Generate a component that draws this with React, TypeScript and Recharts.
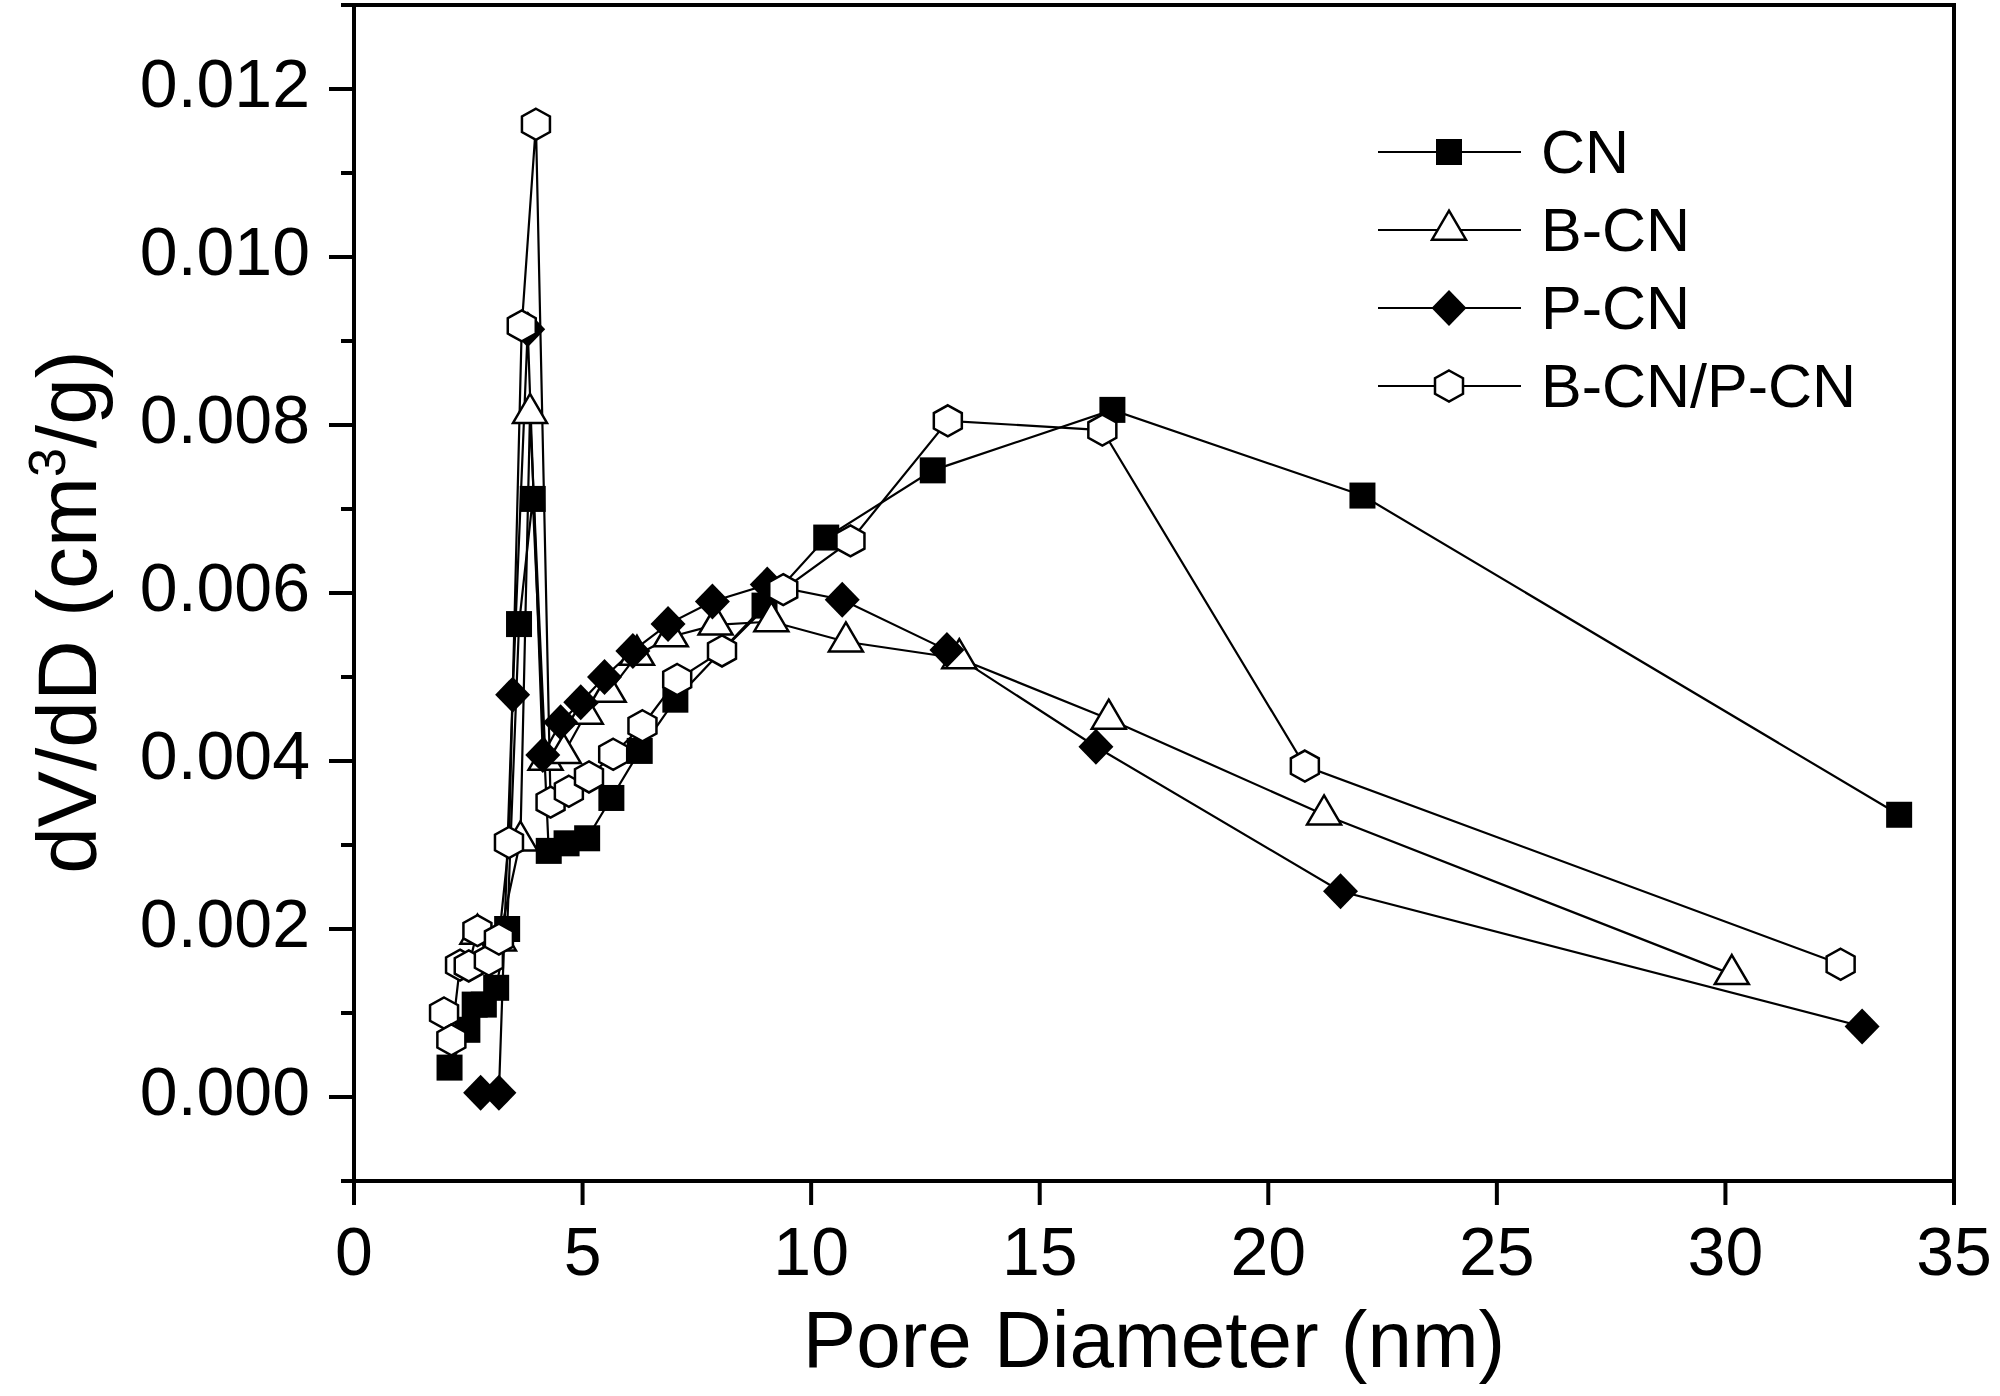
import React from 'react';
import { LineChart, Line, XAxis, YAxis, ReferenceLine, Legend } from 'recharts';

const FONT = '"Liberation Sans", Arial, Helvetica, sans-serif';

// [pore diameter (nm), dV/dD (cm3/g)]
const cnPoints: [number, number][] = [
  [2.09, 0.00035], [2.48, 0.0008], [2.64, 0.0011], [2.84, 0.0011], [3.11, 0.0013],
  [3.35, 0.002], [3.61, 0.00563], [3.91, 0.00712], [4.26, 0.00293], [4.65, 0.00302],
  [5.1, 0.00308], [5.63, 0.00356], [6.25, 0.00412], [7.03, 0.00473], [8.98, 0.00585],
  [10.33, 0.00666], [12.66, 0.00746], [16.59, 0.00818], [22.06, 0.00716], [33.8, 0.00336],
];

const bcnPoints: [number, number][] = [
  [2.7, 0.00194], [3.17, 0.00186], [3.64, 0.00305],
  [3.85, 0.00814], [4.19, 0.00401], [4.59, 0.00409], [5.07, 0.00456], [5.57, 0.00482],
  [6.19, 0.00526], [6.93, 0.00548], [7.91, 0.00562], [9.13, 0.00566], [10.76, 0.00542],
  [13.24, 0.00522], [16.51, 0.0045], [21.22, 0.00336], [30.14, 0.00146],
];

const pcnPoints: [number, number][] = [
  [2.77, 0.00005], [3.17, 0.00005], [3.47, 0.00479], [3.8, 0.00914], [4.13, 0.00407],
  [4.52, 0.00446], [4.96, 0.0047], [5.48, 0.005], [6.1, 0.00531], [6.87, 0.00563],
  [7.84, 0.0059], [9.04, 0.0061], [10.68, 0.00592], [12.97, 0.00532], [16.23, 0.00417],
  [21.58, 0.00245], [32.99, 0.00084],
];

const bpcnPoints: [number, number][] = [
  [1.97, 0.001], [2.13, 0.00068], [2.32, 0.00157], [2.51, 0.00156], [2.7, 0.00198],
  [2.95, 0.00163], [3.17, 0.00188], [3.39, 0.00303], [3.67, 0.00918], [3.98, 0.01158],
  [4.3, 0.00351], [4.7, 0.00364], [5.14, 0.00381], [5.67, 0.00408], [6.31, 0.00442],
  [7.07, 0.00497], [8.05, 0.00531], [9.39, 0.00604], [10.86, 0.00662], [12.99, 0.00805],
  [16.37, 0.00794], [20.8, 0.00394], [32.52, 0.00158],
];

const seriesNames = ['CN', 'B-CN', 'P-CN', 'B-CN/P-CN'];
const seriesKinds = ['square', 'triangle', 'diamond', 'hexagon'];
const xTicks = [0, 5, 10, 15, 20, 25, 30, 35];
const yTicks = [-0.001, 0, 0.001, 0.002, 0.003, 0.004, 0.005, 0.006, 0.007, 0.008, 0.009, 0.01, 0.011, 0.012, 0.013];

const toRows = (pts: [number, number][]) => pts.map(([x, y]) => ({ x, y }));
const seriesData = [toRows(cnPoints), toRows(bcnPoints), toRows(pcnPoints), toRows(bpcnPoints)];

function Marker({ kind, cx, cy }: { kind: string; cx: number; cy: number }) {
  if (cx == null || cy == null || isNaN(cx) || isNaN(cy)) return null;
  if (kind === 'square') {
    return <rect x={cx - 13} y={cy - 13} width={26} height={26} fill="#000" />;
  }
  if (kind === 'triangle') {
    const h = 29;
    const w = 34;
    const pts = `${cx},${cy - (2 * h) / 3} ${cx + w / 2},${cy + h / 3} ${cx - w / 2},${cy + h / 3}`;
    return <polygon points={pts} fill="#fff" stroke="#000" strokeWidth={2.5} strokeLinejoin="miter" />;
  }
  if (kind === 'diamond') {
    const pts = `${cx},${cy - 18} ${cx + 17.5},${cy} ${cx},${cy + 18} ${cx - 17.5},${cy}`;
    return <polygon points={pts} fill="#000" />;
  }
  const hw = 14;
  const hh = 15.5;
  const pts = `${cx},${cy - hh} ${cx + hw},${cy - hh / 2} ${cx + hw},${cy + hh / 2} ${cx},${cy + hh} ${cx - hw},${cy + hh / 2} ${cx - hw},${cy - hh / 2}`;
  return <polygon points={pts} fill="#fff" stroke="#000" strokeWidth={2.5} />;
}

function YTick(props: any) {
  const { x, y, payload } = props;
  const v = payload.value as number;
  const major = Math.abs(Math.round(v * 1000)) % 2 === 0;
  return (
    <g>
      <line x1={x - (major ? 25 : 13)} x2={x} y1={y} y2={y} stroke="#000" strokeWidth={4} />
      {major && (
        <text x={x - 44} y={y + 18} textAnchor="end" fontFamily={FONT} fontSize={68} fill="#000">
          {v.toFixed(3)}
        </text>
      )}
    </g>
  );
}

function XTick(props: any) {
  const { x, y, payload } = props;
  return (
    <g>
      <line x1={x} x2={x} y1={y} y2={y + 24} stroke="#000" strokeWidth={4} />
      <text x={x} y={y + 94} textAnchor="middle" fontFamily={FONT} fontSize={68} fill="#000">
        {payload.value}
      </text>
    </g>
  );
}

function YTitle() {
  return (
    <text
      x={96}
      y={612}
      transform="rotate(-90, 96, 612)"
      textAnchor="middle"
      fontFamily={FONT}
      fontSize={84}
      fill="#000"
    >
      dV/dD (cm<tspan dy={-31} fontSize={52}>3</tspan>
      <tspan dy={31}>/g)</tspan>
    </text>
  );
}

function XTitle() {
  return (
    <text x={1154} y={1367} textAnchor="middle" fontFamily={FONT} fontSize={80} fill="#000">
      Pore Diameter (nm)
    </text>
  );
}

const LEG_LEFT = 1360;
const LEG_TOP = 110;

function LegendBox() {
  return (
    <svg width={600} height={320} style={{ display: 'block', overflow: 'visible' }}>
      {seriesNames.map((n, i) => {
        const y = 152 - LEG_TOP + i * 78;
        return (
          <g key={n}>
            <line x1={1378 - LEG_LEFT} x2={1521 - LEG_LEFT} y1={y} y2={y} stroke="#000" strokeWidth={2.2} />
            <Marker kind={seriesKinds[i]} cx={1449 - LEG_LEFT} cy={y} />
            <text x={1541 - LEG_LEFT} y={y + 21} fontFamily={FONT} fontSize={61} fill="#000">
              {n}
            </text>
          </g>
        );
      })}
    </svg>
  );
}

export default function App() {
  return (
    <div style={{ position: 'absolute', left: 0, top: 0, width: 2000, height: 1396, background: '#fff' }}>
      <LineChart width={2000} height={1396} margin={{ top: 5, right: 46, bottom: 15, left: 54 }}>
        <XAxis
          type="number"
          dataKey="x"
          domain={[0, 35]}
          ticks={xTicks}
          interval={0}
          height={200}
          tickSize={0}
          tickMargin={0}
          tickLine={false}
          tick={(p: any) => <XTick {...p} />}
          axisLine={{ stroke: '#000', strokeWidth: 4, strokeLinecap: 'square' }}
          allowDataOverflow
          label={<XTitle />}
        />
        <YAxis
          type="number"
          dataKey="y"
          domain={[-0.001, 0.013]}
          ticks={yTicks}
          interval={0}
          width={300}
          tickSize={0}
          tickMargin={0}
          tickLine={false}
          tick={(p: any) => <YTick {...p} />}
          axisLine={{ stroke: '#000', strokeWidth: 4, strokeLinecap: 'square' }}
          allowDataOverflow
          label={<YTitle />}
        />
        <ReferenceLine y={0.013} stroke="#000" strokeWidth={4} strokeLinecap="square" />
        <ReferenceLine x={35} stroke="#000" strokeWidth={4} strokeLinecap="square" />
        {seriesData.map((d, i) => (
          <Line
            key={seriesNames[i]}
            data={d}
            dataKey="y"
            name={seriesNames[i]}
            type="linear"
            stroke="#000"
            strokeWidth={2.2}
            isAnimationActive={false}
            activeDot={false}
            dot={(p: any) => <Marker key={`${seriesNames[i]}-${p.index}`} kind={seriesKinds[i]} cx={p.cx} cy={p.cy} />}
          />
        ))}
        <Legend
          layout="horizontal"
          verticalAlign="middle"
          align="center"
          wrapperStyle={{ left: LEG_LEFT, top: LEG_TOP, width: 600, height: 320 }}
          content={() => <LegendBox />}
        />
      </LineChart>
    </div>
  );
}
